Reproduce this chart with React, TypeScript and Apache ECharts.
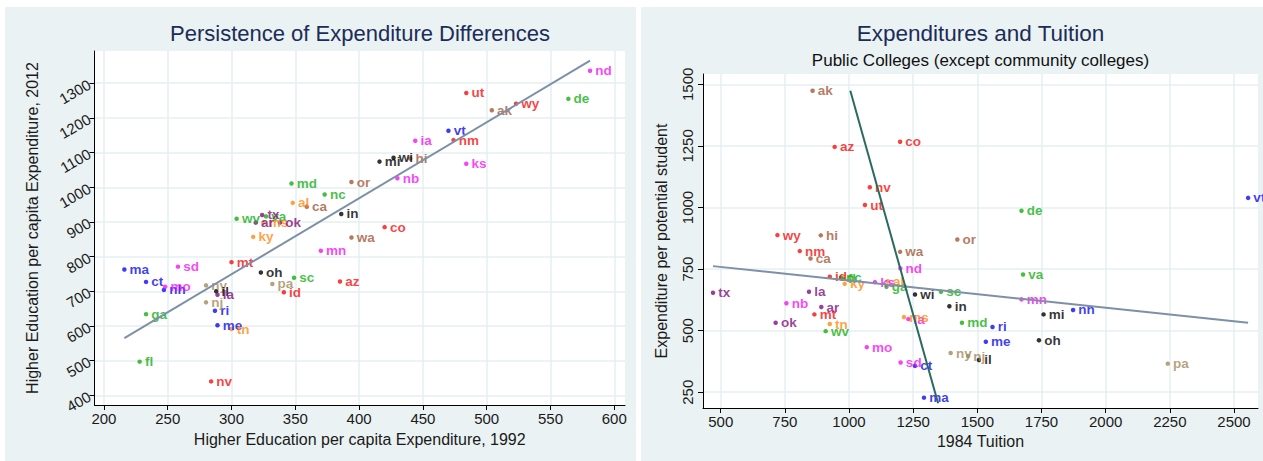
import React, { useEffect, useRef } from "react";
import * as echarts from "echarts";

// ---------- regions (state membership) ----------
const regionNames = ["New England", "Middle Atlantic", "East North Central", "West North Central", "South Atlantic", "East South Central", "West South Central", "Mountain", "Pacific"];
const newEngland = ["ma", "ct", "nh", "ri", "me", "vt"];
const middleAtlantic = ["ny", "nj", "pa"];
const eastNorthCentral = ["oh", "in", "il", "mi", "wi"];
const westNorthCentral = ["mn", "ia", "mo", "nd", "sd", "nb", "ks"];
const southAtlantic = ["de", "md", "va", "wv", "nc", "sc", "ga", "fl"];
const eastSouthCentral = ["ky", "tn", "al", "ms"];
const westSouthCentral = ["ar", "la", "ok", "tx"];
const mountain = ["mt", "id", "wy", "co", "nm", "az", "ut", "nv"];
const pacific = ["wa", "or", "ca", "ak", "hi"];
const regionStates = [newEngland, middleAtlantic, eastNorthCentral, westNorthCentral, southAtlantic, eastSouthCentral, westSouthCentral, mountain, pacific];
const regionColors = ["#0c0cf2", "#a38b5c", "#000000", "#f514f5", "#14b014", "#ff8a10", "#7f107f", "#f51010", "#a3583a"];

// ---------- left panel: expenditure 1992 vs 2012 ----------
const leftStates = ["nd", "de", "ut", "wy", "ak", "vt", "ia", "nm", "ks", "mi", "wi", "hi", "nb", "or", "in", "co", "wa", "mn", "md", "nc", "al", "ca", "wv", "tx", "va", "ar", "ms", "ok", "ky", "mt", "oh", "sc", "pa", "id", "az", "ma", "sd", "ct", "mo", "nh", "ny", "il", "la", "nj", "ga", "ri", "me", "tn", "fl", "nv"];
const spend1992 = [581, 564, 484, 523, 504, 470, 444, 474, 484, 416, 427, 440, 430, 394, 386, 420, 394, 370, 347, 373, 348, 359, 304, 324, 327, 319, 325, 338, 317, 300, 323, 349, 332, 341, 385, 216, 258, 233, 248, 247, 280, 288, 289, 280, 233, 287, 289, 300, 228, 284];
const spend2012 = [1336, 1255, 1272, 1241, 1222, 1163, 1134, 1136, 1068, 1074, 1085, 1083, 1026, 1015, 923, 885, 855, 817, 1011, 979, 955, 944, 909, 920, 916, 898, 898, 898, 857, 784, 754, 739, 721, 697, 728, 763, 771, 727, 713, 704, 717, 700, 690, 668, 634, 644, 602, 591, 497, 440];
const leftFitX = [216, 581];
const leftFitY = [565, 1365];
const leftXTicks = [200, 250, 300, 350, 400, 450, 500, 550, 600];
const leftYTicks = [400, 500, 600, 700, 800, 900, 1000, 1100, 1200, 1300];

// ---------- right panel: tuition 1984 vs expenditure ----------
const rightStates = ["ak", "az", "co", "nv", "ut", "wy", "hi", "nm", "ca", "wa", "or", "nd", "de", "vt", "tx", "la", "nb", "ar", "mt", "ok", "tn", "wv", "id", "nc", "fl", "ky", "ks", "al", "ga", "wi", "sc", "in", "md", "mo", "sd", "ct", "ma", "ny", "nj", "il", "va", "mn", "mi", "nh", "ri", "me", "oh", "pa", "ia", "ms"];
const tuition1984 = [858, 944, 1199, 1081, 1062, 721, 890, 808, 850, 1199, 1422, 1200, 1672, 2555, 470, 844, 756, 892, 865, 714, 925, 909, 925, 968, 975, 983, 1101, 1151, 1146, 1257, 1358, 1391, 1440, 1069, 1201, 1257, 1292, 1396, 1464, 1506, 1678, 1672, 1758, 1873, 1559, 1533, 1740, 2242, 1231, 1214];
const expPerStudent = [1474, 1246, 1267, 1082, 1010, 888, 887, 823, 793, 820, 870, 753, 987, 1039, 654, 658, 611, 596, 566, 532, 527, 498, 719, 715, 712, 690, 697, 701, 678, 647, 658, 599, 532, 433, 371, 357, 228, 409, 397, 381, 728, 627, 566, 584, 515, 455, 461, 366, 547, 555];
const rightFitAX = [470, 2555];
const rightFitAY = [762, 532];
const rightFitBX = [1005, 1347];
const rightFitBY = [1474, 205];
const rightXTicks = [500, 750, 1000, 1250, 1500, 1750, 2000, 2250, 2500];
const rightYTicks = [250, 500, 750, 1000, 1250, 1500];

const FONT = '"Liberation Sans", Arial, Helvetica, sans-serif';
const PANEL = "#eaf2f3";
const GRIDLINE = "#e6eff1";

function regionOf(s: string): number {
  for (let i = 0; i < regionStates.length; i++) if (regionStates[i].indexOf(s) >= 0) return i;
  return 0;
}

function buildScatter(states: string[], xs: number[], ys: number[], axisIndex: number) {
  return regionNames.map((rn, ri) => {
    const data: any[] = [];
    states.forEach((s, i) => {
      if (regionOf(s) === ri) data.push([xs[i], ys[i], s]);
    });
    return {
      type: "scatter",
      name: rn + axisIndex,
      xAxisIndex: axisIndex,
      yAxisIndex: axisIndex,
      data,
      symbol: "circle",
      symbolSize: 4.5,
      itemStyle: { color: regionColors[ri] },
      label: {
        show: true,
        position: "right",
        distance: 3,
        formatter: (p: any) => p.data[2],
        color: regionColors[ri],
        fontFamily: FONT,
        fontWeight: "bold",
        fontSize: 13.5,
      },
      emphasis: { disabled: true },
      z: 3,
    };
  });
}

function fitLine(xs: number[], ys: number[], axisIndex: number, color: string) {
  return {
    type: "line",
    xAxisIndex: axisIndex,
    yAxisIndex: axisIndex,
    data: xs.map((x, i) => [x, ys[i]]),
    showSymbol: false,
    symbol: "none",
    lineStyle: { color, width: 2 },
    emphasis: { disabled: true },
    z: 4,
  };
}

function valueAxis(min: number, max: number, ticks: number[], gridIndex: number, extra: any) {
  return {
    type: "value",
    gridIndex,
    min,
    max,
    axisLine: { show: true, onZero: false, lineStyle: { color: "#000", width: 1 } },
    axisTick: { show: true, length: 5, customValues: ticks, lineStyle: { color: "#000" } },
    axisLabel: { customValues: ticks, formatter: (v: number) => String(v), color: "#1a1a1a", fontSize: 15, fontFamily: FONT, margin: 6, ...(extra.axisLabel || {}) },
    splitLine: { show: true, lineStyle: { color: GRIDLINE, width: 1.5 } },
    nameLocation: "middle",
    nameTextStyle: { color: "#1a1a1a", fontSize: 16, fontFamily: FONT },
    name: extra.name,
    nameGap: extra.nameGap,
  };
}

export default function App() {
  const ref = useRef<HTMLDivElement>(null);
  useEffect(() => {
    if (!ref.current) return;
    const chart = echarts.init(ref.current, undefined, { renderer: "svg" });
    const option: any = {
      animation: false,
      backgroundColor: "#ffffff",
      graphic: [
        { type: "rect", z: -100, silent: true, shape: { x: 5, y: 7, width: 631, height: 460 }, style: { fill: PANEL } },
        { type: "rect", z: -100, silent: true, shape: { x: 641, y: 7, width: 630, height: 460 }, style: { fill: PANEL } },
        { type: "text", z: 10, silent: true, x: 360, y: 33, style: { text: "Persistence of Expenditure Differences", fill: "#1c2c58", font: '22px "Liberation Sans", Arial, sans-serif', textAlign: "center", textVerticalAlign: "middle" } },
        { type: "text", z: 10, silent: true, x: 980.5, y: 33, style: { text: "Expenditures and Tuition", fill: "#1c2c58", font: '22.5px "Liberation Sans", Arial, sans-serif', textAlign: "center", textVerticalAlign: "middle" } },
        { type: "text", z: 10, silent: true, x: 980.5, y: 60, style: { text: "Public Colleges (except community colleges)", fill: "#111", font: '17px "Liberation Sans", Arial, sans-serif', textAlign: "center", textVerticalAlign: "middle" } },
      ],
      grid: [
        { left: 94.5, top: 51, width: 530.5, height: 354, show: true, backgroundColor: "#ffffff", borderWidth: 0, containLabel: false },
        { left: 703, top: 74, width: 555, height: 334, show: true, backgroundColor: "#ffffff", borderWidth: 0, containLabel: false },
      ],
      xAxis: [
        valueAxis(192.6, 608.4, leftXTicks, 0, { name: "Higher Education per capita Expenditure, 1992", nameGap: 26 }),
        valueAxis(431, 2593.5, rightXTicks, 1, { name: "1984 Tuition", nameGap: 23 }),
      ],
      yAxis: [
        valueAxis(372, 1393, leftYTicks, 0, { name: "Higher Education per capita Expenditure, 2012", nameGap: 54, axisLabel: { rotate: 30, margin: 5 } }),
        valueAxis(186, 1542, rightYTicks, 1, { name: "Expenditure per potential student", nameGap: 34, axisLabel: { rotate: 90, margin: 8 } }),
      ],
      series: [
        ...buildScatter(leftStates, spend1992, spend2012, 0),
        fitLine(leftFitX, leftFitY, 0, "#7d90a8"),
        ...buildScatter(rightStates, tuition1984, expPerStudent, 1),
        fitLine(rightFitAX, rightFitAY, 1, "#7d90a8"),
        fitLine(rightFitBX, rightFitBY, 1, "#2b6a60"),
      ],
    };
    chart.setOption(option);
    return () => chart.dispose();
  }, []);
  return <div ref={ref} style={{ position: "absolute", left: 0, top: 0, width: 1263, height: 461 }} />;
}
